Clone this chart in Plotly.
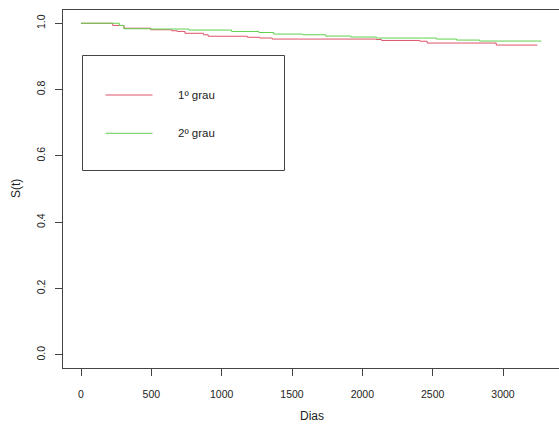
import plotly.graph_objects as go

# Kaplan-Meier step estimates, by degree group
dias_1grau = [0, 225, 305, 495, 644, 684, 739, 870, 904, 1183, 1271, 1359,
              2095, 2136, 2408, 2461, 2952, 3244]
surv_1grau = [1.0, 0.9934, 0.9850, 0.9804, 0.9774, 0.9753, 0.9698, 0.9653,
              0.9608, 0.9578, 0.9554, 0.9523, 0.9511, 0.9481, 0.9457, 0.9403,
              0.9342, 0.9342]

dias_2grau = [0, 272, 305, 495, 767, 1070, 1264, 1370, 1577, 1740, 1918,
              2100, 2526, 2670, 2834, 3272]
surv_2grau = [1.0, 0.9934, 0.9834, 0.9825, 0.9795, 0.9753, 0.9722, 0.9674,
              0.9653, 0.9614, 0.9584, 0.9554, 0.9523, 0.9493, 0.9463, 0.9463]

grupos = ["1º grau", "2º grau"]
cores = ["#DF536B", "#61D04F"]

x_ticks = [0, 500, 1000, 1500, 2000, 2500, 3000]
y_ticks = [0.0, 0.2, 0.4, 0.6, 0.8, 1.0]

FONT = "Liberation Sans, Arial, sans-serif"
TXT = "#222222"
AX = "#444444"

fig = go.Figure()
for dias, surv, nome, cor in [(dias_1grau, surv_1grau, grupos[0], cores[0]),
                               (dias_2grau, surv_2grau, grupos[1], cores[1])]:
    fig.add_trace(go.Scatter(x=dias, y=surv, mode="lines", name=nome,
                             line=dict(color=cor, width=1, shape="hv"),
                             showlegend=False))

# hand-drawn legend box
W, H, L, T = 496, 358, 63, 10
def px(x):
    return (x - L) / W
def py(y):
    return (T + H - y) / H

shapes = [dict(type="rect", xref="paper", yref="paper",
               x0=px(82.5), x1=px(284.5), y0=py(170.5), y1=py(55.5),
               line=dict(color=AX, width=1))]
annotations = []
for i, (nome, cor) in enumerate(zip(grupos, cores)):
    yy = py(95 + i * 38.3)
    shapes.append(dict(type="line", xref="paper", yref="paper",
                       x0=px(105.5), x1=px(152.5), y0=yy, y1=yy,
                       line=dict(color=cor, width=1)))
    annotations.append(dict(xref="paper", yref="paper", x=px(176), y=yy,
                            text=nome, showarrow=False, xanchor="left",
                            yanchor="middle",
                            font=dict(family=FONT, size=11.5, color=TXT)))

annotations.append(dict(xref="paper", yref="paper", x=px(312), y=py(416),
                        text="Dias", showarrow=False, xanchor="center",
                        yanchor="middle",
                        font=dict(family=FONT, size=12, color=TXT)))
annotations.append(dict(xref="paper", yref="paper", x=px(16), y=py(189),
                        text="S(t)", showarrow=False, xanchor="center",
                        yanchor="middle", textangle=-90,
                        font=dict(family=FONT, size=12, color=TXT)))

fig.update_layout(
    width=559, height=425,
    margin=dict(l=L, r=0, t=T, b=425 - T - H),
    paper_bgcolor="white", plot_bgcolor="white",
    shapes=shapes, annotations=annotations,
    xaxis=dict(range=[-128, 3398], tickvals=x_ticks,
               ticktext=[str(v) for v in x_ticks],
               showgrid=False, zeroline=False,
               showline=True, mirror=True, linecolor=AX, linewidth=1,
               ticks="outside", ticklen=7, tickcolor=AX,
               ticklabelstandoff=9,
               tickfont=dict(family=FONT, size=10.5, color=TXT)),
    yaxis=dict(range=[-0.04, 1.04], tickvals=y_ticks,
               ticktext=[f"{v:.1f}" for v in y_ticks],
               showgrid=False, zeroline=False,
               showline=True, mirror=False, linecolor=AX, linewidth=1,
               ticks="outside", ticklen=7, tickcolor=AX,
               tickangle=-90, ticklabelstandoff=6,
               tickfont=dict(family=FONT, size=10.5, color=TXT)),
)

fig.write_html("out.html")
